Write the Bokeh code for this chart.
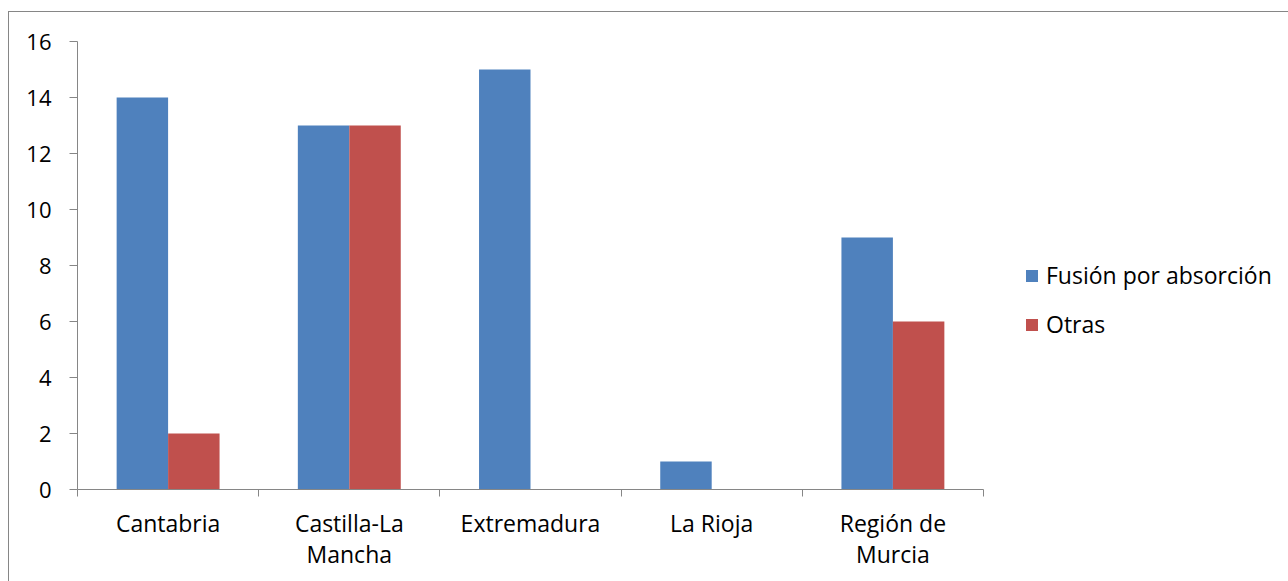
from bokeh.plotting import figure
from bokeh.models import (Range1d, FixedTicker, LinearAxis, Legend, LegendItem,
                          ColumnDataSource)
from bokeh.transform import dodge
from bokeh.embed import file_html
from bokeh.resources import INLINE

# ---- data ----
categories = ["Cantabria", "Castilla-La Mancha", "Extremadura", "La Rioja", "Región de Murcia"]
label_line1 = ["Cantabria", "Castilla-La", "Extremadura", "La Rioja", "Región de"]
label_line2 = ["", "Mancha", "", "", "Murcia"]
series_names = ["Fusión por absorción", "Otras"]
fusion = [14, 13, 15, 1, 9]
otras = [2, 13, 0, 0, 6]
y_ticks = [0, 2, 4, 6, 8, 10, 12, 14, 16]

BLUE = "#4F81BD"
RED = "#C0504D"
GRAY = "#868686"
FONT = "Open Sans"
FS = "22px"
FSX = "23px"

n = len(categories)
centers = [i + 0.5 for i in range(n)]
bounds = [i for i in range(n + 1)]

src = ColumnDataSource(dict(x=centers, fusion=fusion, otras=otras))

p = figure(frame_width=906, frame_height=448, output_backend="svg", toolbar_location=None,
           x_range=Range1d(0, n), y_range=Range1d(0, 16),
           min_border_left=69, min_border_right=0, min_border_top=30,
           min_border_bottom=92, x_axis_type=None, y_axis_type=None)
p.margin = (11, 0, 0, 8)
p.border_fill_alpha = 0
p.background_fill_color = "white"
p.outline_line_color = None
p.styles = {"box-shadow": "inset 1px 1px 0 0 #868686"}

bw = 0.284
r1 = p.vbar(x=dodge("x", -bw / 2), top="fusion", width=bw, source=src,
            fill_color=BLUE, line_color=None)
r2 = p.vbar(x=dodge("x", bw / 2), top="otras", width=bw, source=src,
            fill_color=RED, line_color=None)

# y axis
yax = LinearAxis(ticker=FixedTicker(ticks=y_ticks))
yax.axis_line_color = GRAY
yax.major_tick_line_color = GRAY
yax.major_tick_out = 8
yax.major_tick_in = 0
yax.minor_tick_line_color = None
yax.major_label_standoff = 18
yax.major_label_text_font = FONT
yax.major_label_text_font_size = FS
yax.major_label_text_color = "black"
p.add_layout(yax, "left")

# x axis, line 1 + boundary ticks
xax = LinearAxis(ticker=FixedTicker(ticks=centers, minor_ticks=bounds))
xax.axis_line_color = GRAY
xax.major_tick_line_color = None
xax.major_tick_out = 0
xax.major_tick_in = 0
xax.minor_tick_line_color = GRAY
xax.minor_tick_out = 7
xax.minor_tick_in = 0
xax.major_label_standoff = 10
xax.major_label_overrides = {c: l for c, l in zip(centers, label_line1)}
xax.major_label_text_font = FONT
xax.major_label_text_font_size = FSX
xax.major_label_text_color = "black"
p.add_layout(xax, "below")

# x axis, line 2
xax2 = LinearAxis(ticker=FixedTicker(ticks=centers))
xax2.axis_line_color = None
xax2.major_tick_line_color = None
xax2.minor_tick_line_color = None
xax2.major_tick_out = 0
xax2.major_tick_in = 0
xax2.major_label_standoff = -4
xax2.major_label_overrides = {c: l for c, l in zip(centers, label_line2)}
xax2.major_label_text_font = FONT
xax2.major_label_text_font_size = FSX
xax2.major_label_text_color = "black"
p.add_layout(xax2, "below")

p.ygrid.grid_line_color = GRAY
p.ygrid.ticker = FixedTicker(ticks=y_ticks)
p.xgrid.grid_line_color = None

legend = Legend(items=[LegendItem(label=series_names[0], renderers=[r1]),
                       LegendItem(label=series_names[1], renderers=[r2])],
                location=(41, 149), orientation="vertical")
legend.padding = 0
legend.margin = 0
legend.border_line_color = None
legend.background_fill_alpha = 0
legend.glyph_width = 15
legend.glyph_height = 15
legend.label_standoff = 7
legend.spacing = 17
legend.label_text_font = FONT
legend.label_text_font_size = FSX
legend.label_text_color = "black"
p.add_layout(legend, "right")

open("out.html", "w").write(file_html(p, INLINE))
